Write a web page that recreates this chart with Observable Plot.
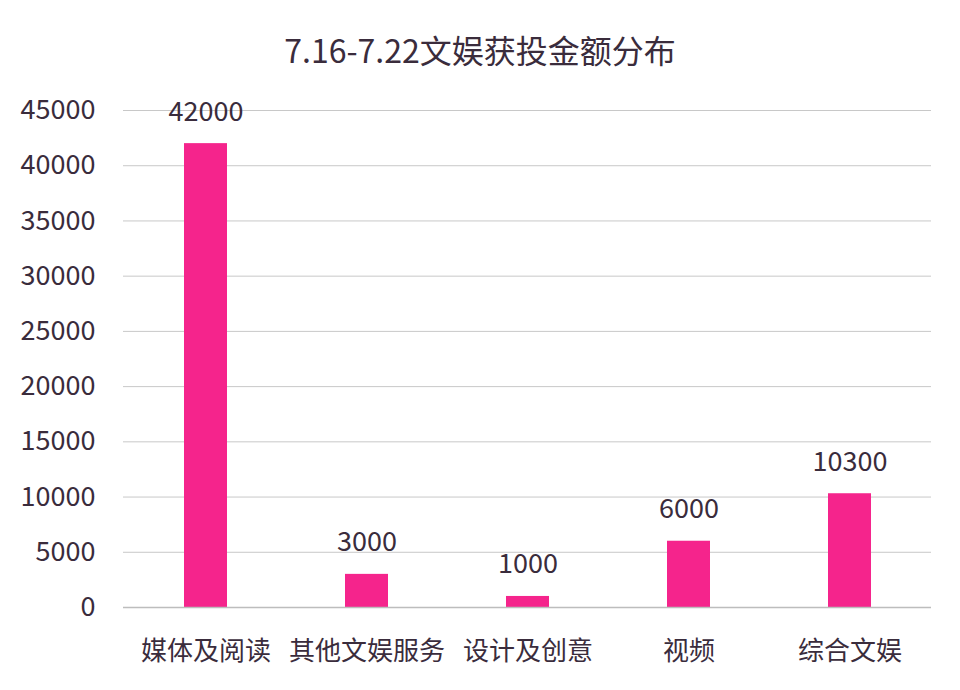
<!DOCTYPE html>
<html>
<head>
<meta charset="utf-8">
<script src="https://cdn.jsdelivr.net/npm/d3@7"></script>
<script src="https://cdn.jsdelivr.net/npm/@observablehq/plot@0.6"></script>
<style>
  html, body { margin: 0; padding: 0; background: #fff; }
  #wrap { width: 960px; height: 690px; position: relative; }
  #title { height: 76px; line-height: 98px; text-align: center; font-family: "Noto Sans CJK SC", sans-serif; font-size: 32px; color: #3a2c3c; overflow: visible; }
</style>
</head>
<body>
<div id="wrap">
  <div id="title">7.16-7.22文娱获投金额分布</div>
  <div id="chart"></div>
</div>
<script>
const categories = ["媒体及阅读", "其他文娱服务", "设计及创意", "视频", "综合文娱"];
const values = [42000, 3000, 1000, 6000, 10300];
const yTicks = [0, 5000, 10000, 15000, 20000, 25000, 30000, 35000, 40000, 45000];

const data = categories.map((c, i) => ({category: c, value: values[i]}));
const textColor = "#3a2c3c";
const barColor = "#f5248c";

const chart = Plot.plot({
  width: 960,
  height: 614,
  marginTop: 34,
  marginBottom: 83,
  marginLeft: 123,
  marginRight: 29,
  style: {fontFamily: "'Noto Sans CJK SC', sans-serif", fontSize: "26px", color: textColor, background: "transparent", overflow: "visible"},
  x: {domain: categories, paddingInner: 0.734, paddingOuter: 0.367, label: null},
  y: {domain: [0, 45000], label: null},
  marks: [
    Plot.gridY(yTicks, {stroke: "#c8c8c8", strokeOpacity: 1, strokeWidth: 1}),
    Plot.axisY(yTicks, {tickSize: 0, tickPadding: 28, tickFormat: d => String(d), fontSize: 27, fill: textColor, label: null}),
    Plot.axisX({tickSize: 0, tickPadding: 34, fontSize: 26, fill: textColor, label: null}),
    Plot.barY(data, {x: "category", y: "value", fill: barColor}),
    Plot.text(data, {x: "category", y: "value", text: d => String(d.value), lineAnchor: "bottom", dy: -23, fontSize: 27, fill: textColor}),
    Plot.ruleY([0], {stroke: "#bdbdbd", strokeWidth: 1.5})
  ]
});
document.getElementById("chart").appendChild(chart);
</script>
</body>
</html>
